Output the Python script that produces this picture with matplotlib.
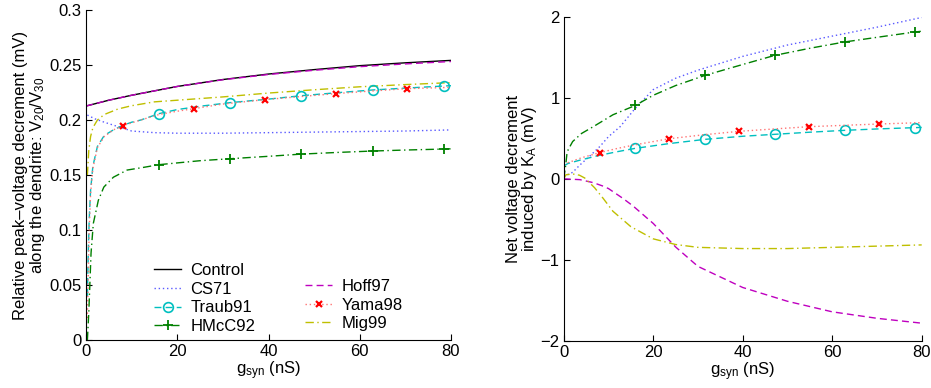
import numpy as np
import matplotlib
matplotlib.use('Agg')
import matplotlib.pyplot as plt

plt.rcParams['font.family'] = ['Liberation Sans', 'DejaVu Sans']
plt.rcParams['mathtext.default'] = 'regular'
plt.rcParams['font.size'] = 12

# --- left panel: V20/V30 vs g_syn ---
ctrl_x = [0, 5, 10, 20, 30, 40, 50, 60, 70, 80]
ctrl_y = [0.2127, 0.218, 0.2225, 0.2305, 0.2368, 0.2418, 0.2458, 0.2494, 0.2520, 0.2542]
hoff_x = [0, 5, 10, 20, 30, 40, 50, 60, 70, 80]
hoff_y = [0.2127, 0.218, 0.2225, 0.2305, 0.2366, 0.2414, 0.2452, 0.2485, 0.2510, 0.2532]
cs_x = [0.3, 1, 2, 4, 7, 10, 15, 20, 30, 40, 50, 60, 70, 80]
cs_y = [0.2045, 0.203, 0.201, 0.198, 0.194, 0.190, 0.1885, 0.188, 0.188, 0.1885, 0.189, 0.1895, 0.190, 0.191]
mig_x = [0.3, 0.6, 1, 1.5, 2.5, 4, 7, 10, 15, 20, 30, 40, 50, 60, 70, 80]
mig_y = [0.15, 0.172, 0.185, 0.193, 0.2, 0.205, 0.21, 0.213, 0.2165, 0.218, 0.221, 0.2245, 0.2275, 0.2302, 0.2322, 0.234]
traub_x = [0.3, 0.5, 0.7, 1, 1.5, 2.5, 4, 6, 8, 10, 12, 16, 20, 25, 31.6, 40, 47.2, 55, 62.8, 70, 78.4, 80]
traub_y = [0.04, 0.08, 0.11, 0.136, 0.158, 0.176, 0.186, 0.191, 0.195, 0.198, 0.2, 0.2058, 0.2095, 0.2125,
           0.2158, 0.219, 0.2221, 0.2248, 0.2273, 0.229, 0.2309, 0.2312]
yama_x = [0.3, 0.5, 0.7, 1, 1.5, 2.5, 4, 6, 8, 12, 16, 20, 23.6, 30, 39.2, 47, 54.8, 62, 70.4, 80]
yama_y = [0.02, 0.06, 0.1, 0.133, 0.156, 0.175, 0.185, 0.191, 0.1948, 0.2, 0.205, 0.208, 0.2103, 0.2145,
          0.2185, 0.2213, 0.224, 0.2262, 0.2285, 0.2297]
hmcc_x = [0.3, 0.6, 1.1, 1.6, 2.7, 3.9, 6, 9, 12.7, 16, 20, 25, 31.6, 40, 47.2, 55, 62.8, 70, 78.4, 80]
hmcc_y = [0.0, 0.0245, 0.079, 0.106, 0.127, 0.139, 0.148, 0.1545, 0.157, 0.1594, 0.161, 0.163, 0.1648,
          0.167, 0.169, 0.1705, 0.1718, 0.1727, 0.1736, 0.1738]

# --- right panel: net decrement induced by K_A ---
cs2_x = [0, 2, 3.6, 6, 8.1, 10, 12.6, 16, 20, 25, 30, 40, 50, 60, 70, 80]
cs2_y = [0.03, 0.08, 0.17, 0.29, 0.40, 0.52, 0.643, 0.87, 1.1, 1.24, 1.34, 1.51, 1.65, 1.76, 1.87, 1.99]
hmcc2_x = [0, 0.4, 0.7, 1, 2, 4, 6.6, 11, 16, 20, 25, 31.6, 40, 47.2, 55, 62.8, 70, 78.4, 80]
hmcc2_y = [0.0, 0.15, 0.30, 0.36, 0.46, 0.56, 0.643, 0.79, 0.905, 1.03, 1.15, 1.276, 1.41, 1.523, 1.61,
           1.688, 1.745, 1.81, 1.82]
traub2_x = [0, 1, 3.6, 8, 12, 16, 23.6, 31.6, 40, 47.2, 55, 62.8, 70, 78.4, 80]
traub2_y = [0.16, 0.19, 0.23, 0.29, 0.335, 0.376, 0.435, 0.487, 0.525, 0.549, 0.575, 0.598, 0.615, 0.631, 0.634]
yama2_x = [0, 1, 4, 8, 12, 16, 23.6, 31.6, 39.2, 47, 54.8, 62.8, 70.4, 80]
yama2_y = [0.18, 0.2, 0.26, 0.323, 0.375, 0.42, 0.495, 0.545, 0.586, 0.615, 0.643, 0.66, 0.676, 0.693]
hoff2_x = [0, 3.6, 6.6, 8.8, 10, 13.2, 15.5, 20, 25, 30, 40, 50, 60, 70, 80]
hoff2_y = [0.0, -0.01, -0.047, -0.09, -0.12, -0.24, -0.335, -0.55, -0.84, -1.08, -1.34, -1.51, -1.64, -1.72, -1.78]
mig2_x = [0, 0.5, 2, 3.5, 4.7, 6.9, 8.8, 11, 15, 20, 25, 30, 40, 50, 60, 70, 80]
mig2_y = [0.0, 0.05, 0.06, 0.045, 0.01, -0.11, -0.24, -0.40, -0.59, -0.74, -0.81, -0.845, -0.86, -0.86,
          -0.845, -0.83, -0.815]

# marker positions along the curves
mk_even = [16, 31.6, 47.2, 62.8, 78.4]
mk_odd = [8, 23.6, 39.2, 54.8, 70.4]

def marks(xs, where):
    return [i for i, v in enumerate(xs) if v in where]

blue = (0.35, 0.35, 1.0)
cyan = (0.0, 0.75, 0.75)
green = (0.0, 0.5, 0.0)
magenta = (0.75, 0.0, 0.75)
red = (1.0, 0.0, 0.0)
pink = (1.0, 0.45, 0.45)
yellow = (0.75, 0.75, 0.0)
dashdot = (0, (6, 2.5, 1, 2.5))
dashed = (0, (5, 3))
dotted = (0, (1, 2))

fig = plt.figure(figsize=(9.31, 3.88), dpi=100)
ax1 = fig.add_axes([0.0924, 0.1237, 0.392, 0.8505])
ax2 = fig.add_axes([0.6055, 0.1211, 0.3845, 0.836])

l_ctrl, = ax1.plot(ctrl_x, ctrl_y, color='k', lw=1.0, label='Control')
l_hoff, = ax1.plot(hoff_x, hoff_y, color=magenta, lw=1.0, ls=dashed, label='Hoff97')
l_cs, = ax1.plot(cs_x, cs_y, color=blue, lw=1.0, ls=dotted, label='CS71')
l_mig, = ax1.plot(mig_x, mig_y, color=yellow, lw=1.0, ls=dashdot, label='Mig99')
l_traub, = ax1.plot(traub_x, traub_y, color=cyan, lw=1.0, ls=dashed, marker='o', ms=7,
                    mfc='none', mew=1.2, markevery=marks(traub_x, mk_even), label='Traub91')
l_yama, = ax1.plot(yama_x, yama_y, color=pink, lw=1.0, ls=dotted, marker='x', ms=5,
                   mew=1.6, mec=red, markevery=marks(yama_x, mk_odd), label='Yama98')
l_hmcc, = ax1.plot(hmcc_x, hmcc_y, color=green, lw=1.0, ls=dashdot, marker='+', ms=7,
                   mew=1.3, markevery=marks(hmcc_x, mk_even), label='HMcC92')

ax2.plot(cs2_x, cs2_y, color=blue, lw=1.0, ls=dotted)
ax2.plot(hmcc2_x, hmcc2_y, color=green, lw=1.0, ls=dashdot, marker='+', ms=7, mew=1.3,
         markevery=marks(hmcc2_x, mk_even))
ax2.plot(traub2_x, traub2_y, color=cyan, lw=1.0, ls=dashed, marker='o', ms=7, mfc='none',
         mew=1.2, markevery=marks(traub2_x, mk_even))
ax2.plot(yama2_x, yama2_y, color=pink, lw=1.0, ls=dotted, marker='x', ms=5,
         mew=1.6, mec=red, markevery=marks(yama2_x, mk_odd))
ax2.plot(hoff2_x, hoff2_y, color=magenta, lw=1.0, ls=dashed)
ax2.plot(mig2_x, mig2_y, color=yellow, lw=1.0, ls=dashdot)

ax1.set_xlim(0, 80)
ax1.set_ylim(0, 0.3)
ax1.set_xticks([0, 20, 40, 60, 80])
ax1.set_yticks([0, 0.05, 0.1, 0.15, 0.2, 0.25, 0.3])
ax1.set_yticklabels(['0', '0.05', '0.1', '0.15', '0.2', '0.25', '0.3'])
ax1.set_xlabel('g$_{syn}$ (nS)', labelpad=0)
ax1.set_ylabel('Relative peak\u2013voltage decrement (mV)\nalong the dendrite: V$_{20}$/V$_{30}$',
               linespacing=0.95, labelpad=2)

ax2.set_xlim(0, 80)
ax2.set_ylim(-2, 2)
ax2.set_xticks([0, 20, 40, 60, 80])
ax2.set_yticks([-2, -1, 0, 1, 2])
ax2.set_xlabel('g$_{syn}$ (nS)', labelpad=0)
ax2.set_ylabel('Net voltage decrement\ninduced by K$_A$ (mV)', linespacing=0.95, labelpad=1)

for ax in (ax1, ax2):
    ax.spines['top'].set_visible(False)
    ax.spines['right'].set_visible(False)
    ax.tick_params(direction='in', length=4, width=0.8, labelsize=12, pad=3)

leg1 = ax1.legend(handles=[l_ctrl, l_cs, l_traub, l_hmcc], loc='upper left',
                  bbox_to_anchor=(0.186, 0.233), frameon=False, handlelength=1.65,
                  handletextpad=0.55, labelspacing=0.22, borderpad=0, borderaxespad=0)
ax1.add_artist(leg1)
ax1.legend(handles=[l_hoff, l_yama, l_mig], loc='upper left',
           bbox_to_anchor=(0.6, 0.185), frameon=False, handlelength=1.65,
           handletextpad=0.55, labelspacing=0.22, borderpad=0, borderaxespad=0)

plt.savefig('out.png', dpi=100)
